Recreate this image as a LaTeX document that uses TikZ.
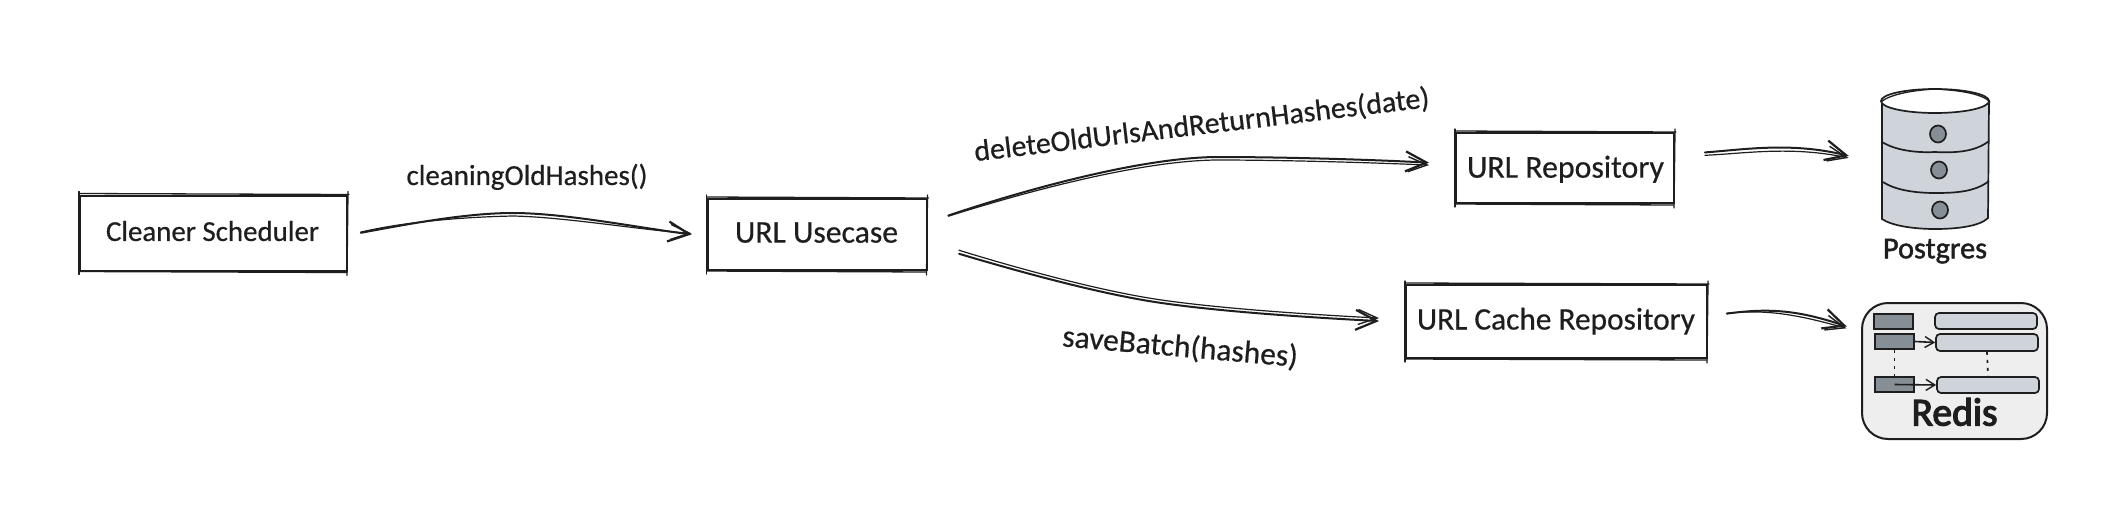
\documentclass[tikz,border=0pt]{standalone}
\usepackage{fontspec}
\usepackage{graphicx}
\setmainfont[FakeBold=0.5]{Carlito}
\newfontfamily\heavyhand[FakeBold=3]{Carlito}
\newfontfamily\midhand[FakeBold=1.5]{Carlito}
\usetikzlibrary{arrows.meta,calc}
\definecolor{ink}{HTML}{1E1E1E}
\definecolor{lightg}{HTML}{CED4DA}
\definecolor{darkg}{HTML}{868E96}
\definecolor{panel}{HTML}{EEEEEE}
\newcommand{\fitw}[2]{\resizebox{#1pt}{!}{\strut #2}}
\newcommand{\skbox}[1]{%
  \draw[skline] ($(#1.north west)+(-1,-2)$) -- ($(#1.north east)+(2,-1)$);
  \draw[skline] ($(#1.south west)+(-1,1)$) -- ($(#1.south east)+(0,2)$);
  \draw[skline] ($(#1.north west)+(-1,-4)$) -- ($(#1.south west)+(-1,4)$);
  \draw[skline] ($(#1.north east)+(1,-4)$) -- ($(#1.south east)+(0,5)$);}
\tikzset{
  box/.style={draw=ink,line width=2pt,inner sep=0pt,outer sep=0pt,text=ink},
  skline/.style={draw=ink,line width=1.3pt,line cap=round},
  wire/.style={draw=ink,line width=2pt,line cap=round,-{Straight Barb[length=21pt,width=20pt,line width=2.2pt]}},
  wireb/.style={draw=ink,line width=1.2pt,line cap=round,-{Straight Barb[length=19pt,width=15pt,line width=1.4pt]}},
  lab/.style={inner sep=0pt,text=ink,yshift=-2pt},
  small/.style={draw=ink,line width=1.7pt},
  smallarrow/.style={draw=ink,line width=1.6pt,-{Straight Barb[length=9pt,width=11pt,line width=1.4pt]}},
  dots/.style={draw=ink,line width=1.7pt,dash pattern=on 3pt off 5pt},
}
\begin{document}
\begin{tikzpicture}[x=1pt,y=-1pt]
\useasboundingbox[fill=white] (0,0) rectangle (2118,528);
% boxes
\node[box,minimum width=267pt,minimum height=75pt] (cs) at (213.5,233) {};
\node[box,minimum width=219pt,minimum height=71pt] (uc) at (817,234.5) {};
\node[box,minimum width=218pt,minimum height=70pt] (rp) at (1565,168) {};
\node[box,minimum width=301pt,minimum height=73pt] (cr) at (1556.5,321.5) {};
\skbox{cs}\skbox{uc}\skbox{rp}\skbox{cr}
\node[lab] (t1) at (212.5,232) {\fitw{213}{Cleaner Scheduler}};
\node[lab] (t2) at (816.5,233) {\fitw{163}{URL Usecase}};
\node[lab] (t3) at (1565.5,168) {\fitw{197}{URL Repository}};
\node[lab] (t4) at (1556,320) {\fitw{278}{URL Cache Repository}};
% edge labels
\node[lab] (l1) at (527,176) {\fitw{241}{cleaningOldHashes()}};
\node[lab,rotate=6.8] (l2) at (1202,125) {\fitw{458}{deleteOldUrlsAndReturnHashes(date)}};
\node[lab,rotate=-5] (l3) at (1180,347) {\fitw{236}{saveBatch(hashes)}};
% icon anchors
\node[inner sep=0pt,minimum width=108pt,minimum height=140pt] (db) at (1935,159) {};
\node[draw=ink,fill=panel,line width=2pt,rounded corners=26pt,minimum width=185pt,minimum height=136pt,inner sep=0pt] (rd) at (1954.5,371) {};
% connectors
\draw[wire,shorten <=14pt,shorten >=16pt] (cs.-1.3) .. controls +(60,-11) and (465,213) .. (513,213) .. controls (565,213) and (640,228) .. (uc.181.8);
\draw[wireb,shorten <=14pt,shorten >=16pt] (cs.-1.3) .. controls +(60,-14) and (465,217) .. (513,216) .. controls (565,217) and (640,230) .. ([yshift=2pt]uc.181.8);
\draw[wire,shorten <=23pt,shorten >=27pt] (uc.6.5) .. controls (1000,198) and (1130,158) .. (1216,157) .. controls (1290,157) and (1380,160) .. (rp.178);
\draw[wireb,shorten <=23pt,shorten >=27pt] (uc.6.5) .. controls (1000,200) and (1130,161) .. (1216,160) .. controls (1290,160) and (1380,163) .. ([yshift=-2pt]rp.178);
\draw[wire,shorten <=34pt,shorten >=27pt] (uc.-5) .. controls (1000,266) and (1090,292) .. (1155,302) .. controls (1220,312) and (1320,318) .. ([yshift=-1pt]cr.west);
\draw[wireb,shorten <=34pt,shorten >=27pt] ([yshift=4pt]uc.-5) .. controls (1000,263) and (1090,289) .. (1155,299) .. controls (1220,309) and (1320,315) .. ([yshift=2pt]cr.west);
\draw[wire,shorten <=31pt,shorten >=33pt] (rp.7.8) .. controls +(70,-5) and +(-90,-22) .. (db.185);
\draw[wireb,shorten <=31pt,shorten >=33pt] ([yshift=-2pt]rp.7.8) .. controls +(70,-3) and +(-90,-19) .. ([yshift=-1pt]db.185);
\draw[wire,shorten <=20pt,shorten >=15pt] (cr.2.1) .. controls +(60,-8) and +(-65,-22) .. (rd.157.1);
\draw[wireb,shorten <=20pt,shorten >=15pt] ([yshift=1pt]cr.2.1) .. controls +(60,-6) and +(-65,-18) .. ([yshift=-1pt]rd.157.1);
% database
\fill[lightg] (1882,101) -- (1882,218) .. controls (1892,226) and (1915,229) .. (1935,229) .. controls (1958,229) and (1980,226) .. (1988,218) -- (1989,101) -- cycle;
\draw[small] (1882,103) -- (1882,219) .. controls (1892,226) and (1915,229) .. (1935,229) .. controls (1958,229) and (1980,226) .. (1988,218) -- (1989,100);
\draw[small,fill=white] (1935,101) ellipse [x radius=54,y radius=12];
\draw[skline] (1881,102) .. controls (1890,94) and (1915,90) .. (1935,89) .. controls (1955,90) and (1982,93) .. (1990,102);
\draw[small] (1882,142) .. controls (1895,150) and (1915,153) .. (1935,152) .. controls (1955,153) and (1975,152) .. (1989,141);
\draw[small] (1883,182) .. controls (1895,190) and (1915,193) .. (1935,193) .. controls (1955,193) and (1975,192) .. (1989,181);
\draw[small,fill=darkg] (1938,134) ellipse [x radius=8,y radius=8.5];
\draw[small,fill=darkg] (1939,170) ellipse [x radius=8,y radius=8.5];
\draw[small,fill=darkg] (1940,210) ellipse [x radius=8,y radius=8.5];
\node[lab] (pg) at (1935,249) {\fitw{104}{\midhand Postgres}};
% redis contents
\node[small,fill=darkg,minimum width=39pt,minimum height=15pt,inner sep=0pt] (k1) at (1893.5,321.5) {};
\node[small,fill=darkg,minimum width=39pt,minimum height=15pt,inner sep=0pt] (k2) at (1894.5,341.5) {};
\node[small,fill=darkg,minimum width=39pt,minimum height=15pt,inner sep=0pt] (k3) at (1894.5,384.5) {};
\node[small,fill=lightg,rounded corners=4pt,minimum width=102pt,minimum height=16pt,inner sep=0pt] (v1) at (1986,321) {};
\node[small,fill=lightg,rounded corners=4pt,minimum width=102pt,minimum height=17pt,inner sep=0pt] (v2) at (1987,342.5) {};
\node[small,fill=lightg,rounded corners=4pt,minimum width=102pt,minimum height=16pt,inner sep=0pt] (v3) at (1988,385) {};
\draw[smallarrow] (k2.east) -- (v2.west);
\draw[smallarrow] (k3.center) -- (v3.west);
\draw[dots] (k2.south) -- (k3.north);
\draw[dots] (v2.south) -- (v3.north);
\node[lab] (rl) at (1954.5,414) {\fitw{86}{\heavyhand Redis}};
\end{tikzpicture}
\end{document}
